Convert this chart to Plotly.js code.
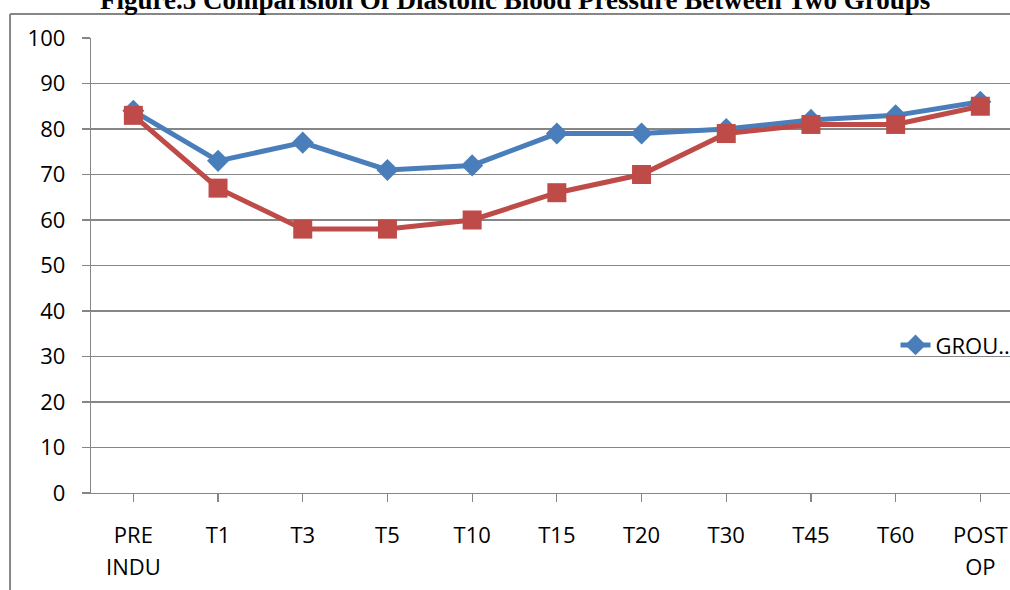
<!DOCTYPE html>
<html>
<head>
<meta charset="utf-8">
<script src="https://cdn.plot.ly/plotly-3.0.1.min.js"></script>
<style>html,body{margin:0;padding:0;background:#fff;}#chart{width:1010px;height:590px;}</style>
</head>
<body>
<div id="chart"></div>
<script>
const categories = ["PRE INDU", "T1", "T3", "T5", "T10", "T15", "T20", "T30", "T45", "T60", "POST OP"];
const labelLine1 = ["PRE", "T1", "T3", "T5", "T10", "T15", "T20", "T30", "T45", "T60", "POST"];
const labelLine2 = ["INDU", "", "", "", "", "", "", "", "", "", "OP"];
const groupA = [84, 73, 77, 71, 72, 79, 79, 80, 82, 83, 86];
const groupB = [83, 67, 58, 58, 60, 66, 70, 79, 81, 81, 85];
const legendLabel = "GROU..";
const titleText = "Figure.5 Comparision Of Diastolic Blood Pressure Between Two Groups";

const xIdx = categories.map((c, i) => i);
const gray = "#868686";
const tickFont = {family: "Open Sans, Noto Sans, sans-serif", size: 22, color: "#000"};

const traces = [
  {
    x: xIdx, y: groupA, type: "scatter", mode: "lines+markers", name: legendLabel,
    line: {color: "#4a7ebb", width: 5},
    marker: {symbol: "diamond", size: 17, color: "#4a7ebb"},
    showlegend: true
  },
  {
    x: xIdx, y: groupB, type: "scatter", mode: "lines+markers", name: "GROUP B",
    line: {color: "#be4b48", width: 5},
    marker: {symbol: "square", size: 19, color: "#be4b48"},
    showlegend: false
  },
  {
    x: xIdx, y: groupB, xaxis: "x2", yaxis: "y", type: "scatter", mode: "markers",
    marker: {opacity: 0, size: 1}, showlegend: false, hoverinfo: "skip"
  }
];

const layout = {
  width: 1010, height: 590,
  margin: {l: 91, r: 0, t: 38, b: 97, autoexpand: false},
  paper_bgcolor: "#fff", plot_bgcolor: "#fff",
  title: {
    text: "<b>" + titleText + "</b>",
    font: {family: "Liberation Serif, Times New Roman, serif", size: 27, color: "#000"},
    xref: "container", yref: "container", x: 0.51, xanchor: "center", y: 1.0, yanchor: "middle"
  },
  xaxis: {
    range: [-0.5, 10.35],
    tickmode: "array", tickvals: xIdx, ticktext: labelLine1,
    showgrid: false, zeroline: false,
    showline: true, linecolor: gray, linewidth: 1.3,
    ticks: "outside", ticklen: 8, tickcolor: gray, tickwidth: 1.3,
    tickson: "boundaries",
    tickfont: tickFont, tickangle: 0, ticklabelstandoff: 14,
    fixedrange: true
  },
  xaxis2: {
    range: [-0.5, 10.35], overlaying: "x", side: "bottom", anchor: "y",
    tickmode: "array", tickvals: xIdx, ticktext: labelLine2,
    showgrid: false, zeroline: false, showline: false,
    ticks: "", tickfont: tickFont, tickangle: 0, ticklabelstandoff: 59,
    fixedrange: true
  },
  yaxis: {
    range: [0, 100], dtick: 10, tick0: 0,
    showgrid: true, gridcolor: gray, gridwidth: 1.3,
    zeroline: false,
    showline: true, linecolor: gray, linewidth: 1.3,
    ticks: "outside", ticklen: 8, tickcolor: gray, tickwidth: 1.3,
    tickfont: tickFont, ticklabelstandoff: 12,
    fixedrange: true
  },
  legend: {
    x: 1.006, xanchor: "right", y: 0.325, yanchor: "middle",
    bgcolor: "rgba(0,0,0,0)", font: tickFont, borderwidth: 0
  },
  shapes: [
    {type: "line", xref: "paper", yref: "paper", x0: -0.0881, x1: 1.0, y0: 1.0527, y1: 1.0527,
     line: {color: gray, width: 2}},
    {type: "line", xref: "paper", yref: "paper", x0: -0.0881, x1: -0.0881, y0: 1.0527, y1: -0.22,
     line: {color: gray, width: 2}}
  ]
};

Plotly.newPlot("chart", traces, layout, {displayModeBar: false, staticPlot: true});
</script>
</body>
</html>
